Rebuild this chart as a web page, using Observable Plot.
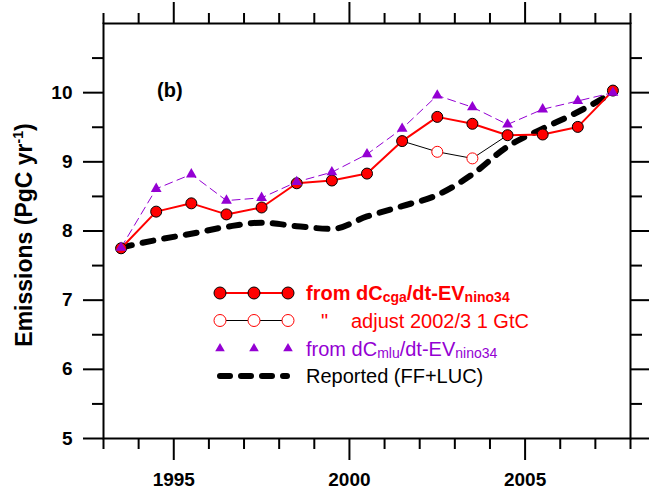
<!DOCTYPE html>
<html><head><meta charset="utf-8">
<script src="https://cdn.jsdelivr.net/npm/d3@7"></script>
<script src="https://cdn.jsdelivr.net/npm/@observablehq/plot@0.6"></script>
<style>
body{margin:0;background:#fff;}
#chart{position:relative;width:649px;height:491px;}
</style></head><body><div id="chart"></div>
<script>
// ---- data ----
const years = [1993.5,1994.5,1995.5,1996.5,1997.5,1998.5,1999.5,2000.5,2001.5,2002.5,2003.5,2004.5,2005.5,2006.5,2007.5];
const cga = [7.75,8.28,8.40,8.24,8.34,8.69,8.73,8.83,9.30,9.65,9.55,9.385,9.395,9.505,10.03];
const mlu = [7.76,8.61,8.82,8.44,8.48,8.71,8.85,9.11,9.48,9.96,9.79,9.54,9.76,9.88,10.0];
const reported = [7.76,7.87,7.96,8.06,8.12,8.07,8.03,8.21,8.36,8.52,8.82,9.22,9.48,9.72,10.0];
const adjYears = [2001.5,2002.5,2003.5,2004.5];
const adjValues = [9.30,9.145,9.05,9.385];
const adjMarkerYears = [2002.5,2003.5];
const xMajor = [1995,2000,2005];
const xMinor = [1993,1994,1996,1997,1998,1999,2001,2002,2003,2004,2006,2007,2008];
const yMajor = [5,6,7,8,9,10];
const yMinor = [5.5,6.5,7.5,8.5,9.5,10.5];

const rows = (xs, vs) => xs.map((x,i)=>({x, y: vs[i]}));
const cgaRows = rows(years, cga);
const mluRows = rows(years, mlu);
const repRows = rows(years, reported);
const adjRows = rows(adjYears, adjValues);
const adjMarks = adjRows.filter(d => adjMarkerYears.includes(d.x));

const PURPLE = "#9400D3";
const blank = () => "";
const axOpts = {strokeWidth: 2, label: null};

const plot = Plot.plot({
  width: 649, height: 491,
  marginLeft: 103, marginRight: 19, marginTop: 23, marginBottom: 53,
  x: {domain: [1993, 2008]},
  y: {domain: [5, 11]},
  style: {fontFamily: "'Liberation Sans', Arial, sans-serif", background: "white", color: "black"},
  marks: [
    Plot.axisX(xMinor, {...axOpts, anchor: "bottom", tickSize: 11, tickFormat: blank}),
    Plot.axisX(xMajor, {...axOpts, anchor: "bottom", tickSize: 22, tickPadding: 12, tickFormat: d => String(d), fontSize: 19, fontWeight: "bold"}),
    Plot.axisX(xMinor, {...axOpts, anchor: "top", tickSize: 11, tickFormat: blank}),
    Plot.axisX(xMajor, {...axOpts, anchor: "top", tickSize: 22, tickFormat: blank}),
    Plot.axisY(yMinor, {...axOpts, anchor: "left", tickSize: 11, tickFormat: blank}),
    Plot.axisY(yMajor, {...axOpts, anchor: "left", tickSize: 20, tickPadding: 11, tickFormat: d => String(d), fontSize: 19, fontWeight: "bold"}),
    Plot.axisY(yMinor, {...axOpts, anchor: "right", tickSize: 11, tickFormat: blank}),
    Plot.axisY(yMajor, {...axOpts, anchor: "right", tickSize: 20, tickFormat: blank}),
    Plot.frame({strokeWidth: 2, stroke: "black"}),
    Plot.line(repRows, {x: "x", y: "y", stroke: "black", strokeWidth: 6, strokeDasharray: "11,11", strokeLinecap: "round", curve: "monotone-x"}),
    Plot.line(adjRows, {x: "x", y: "y", stroke: "black", strokeWidth: 1}),
    Plot.line(mluRows, {x: "x", y: "y", stroke: PURPLE, strokeWidth: 1, strokeDasharray: "8,5"}),
    Plot.line(cgaRows, {x: "x", y: "y", stroke: "red", strokeWidth: 2}),
    Plot.dot(cgaRows, {x: "x", y: "y", r: 5.5, fill: "red", stroke: "black", strokeWidth: 1}),
    Plot.dot(adjMarks, {x: "x", y: "y", r: 5.5, fill: "white", stroke: "red", strokeWidth: 1}),
    Plot.dot(mluRows, {x: "x", y: "y", r: 4, symbol: "triangle", fill: PURPLE, stroke: "none"})
  ]
});

const svg = d3.select(plot);
const FONT = "'Liberation Sans', Arial, sans-serif";

// y-axis title
const yt = svg.append("text")
  .attr("transform", "translate(32,235) rotate(-90)")
  .attr("text-anchor", "middle").attr("font-family", FONT)
  .attr("font-size", 23).attr("font-weight", "bold").attr("fill", "black");
yt.append("tspan").text("Emissions (PgC yr");
yt.append("tspan").attr("font-size", 14).attr("dy", -9).text("-1");
yt.append("tspan").attr("dy", 9).text(")");

// panel label
svg.append("text").attr("x", 157).attr("y", 97).attr("font-family", FONT).attr("text-anchor", "start")
  .attr("font-size", 20).attr("font-weight", "bold").attr("fill", "black").text("(b)");

// legend
const lg = svg.append("g").attr("font-family", FONT).attr("font-size", 20).attr("text-anchor", "start");
const symX = [220, 254, 288];
const rowY = [293, 320.5, 348.5, 376];
const textX = 306;
// row 1
lg.append("line").attr("x1", 220).attr("x2", 288).attr("y1", rowY[0]).attr("y2", rowY[0]).attr("stroke", "red").attr("stroke-width", 2);
symX.forEach(x => lg.append("circle").attr("cx", x).attr("cy", rowY[0]).attr("r", 6).attr("fill", "red").attr("stroke", "black"));
const t1 = lg.append("text").attr("x", textX).attr("y", rowY[0] + 7).attr("fill", "red").attr("font-weight", "bold");
t1.append("tspan").text("from dC");
t1.append("tspan").attr("font-size", 14).attr("dy", 2).text("cga");
t1.append("tspan").attr("dy", -2).text("/dt-EV");
t1.append("tspan").attr("font-size", 14).attr("dy", 2).text("nino34");
// row 2
lg.append("line").attr("x1", 220).attr("x2", 288).attr("y1", rowY[1]).attr("y2", rowY[1]).attr("stroke", "black").attr("stroke-width", 1);
symX.forEach(x => lg.append("circle").attr("cx", x).attr("cy", rowY[1]).attr("r", 6).attr("fill", "white").attr("stroke", "red"));
lg.append("text").attr("x", 321).attr("y", rowY[1] + 7).attr("fill", "red").text("\"");
lg.append("text").attr("x", 351).attr("y", rowY[1] + 7).attr("fill", "red").text("adjust 2002/3 1 GtC");
// row 3
symX.forEach(x => lg.append("path").attr("transform", `translate(${x},${rowY[2]})`)
  .attr("d", d3.symbol(d3.symbolTriangle, 40)()).attr("fill", PURPLE));
const t3 = lg.append("text").attr("x", textX).attr("y", rowY[2] + 7).attr("fill", PURPLE);
t3.append("tspan").text("from dC");
t3.append("tspan").attr("font-size", 14).attr("dy", 2).text("mlu");
t3.append("tspan").attr("dy", -2).text("/dt-EV");
t3.append("tspan").attr("font-size", 14).attr("dy", 2).text("nino34");
// row 4
lg.append("line").attr("x1", 220).attr("x2", 287).attr("y1", rowY[3]).attr("y2", rowY[3])
  .attr("stroke", "black").attr("stroke-width", 6).attr("stroke-dasharray", "10,11").attr("stroke-linecap", "round");
lg.append("text").attr("x", textX).attr("y", rowY[3] + 7).attr("fill", "black").text("Reported (FF+LUC)");

document.getElementById("chart").appendChild(plot);
</script></body></html>
